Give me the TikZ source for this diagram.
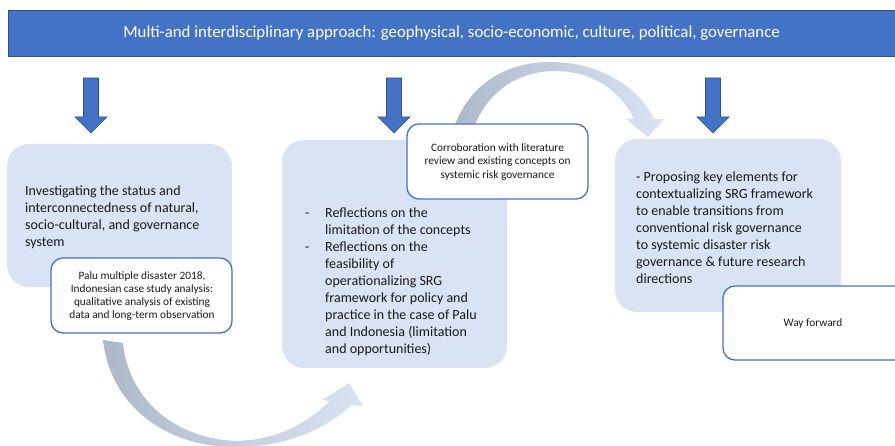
\documentclass[tikz,border=0pt]{standalone}
\usepackage{fontspec}
\setmainfont{Carlito}
\usetikzlibrary{shadings}
\definecolor{barblue}{HTML}{4472C4}
\definecolor{bardark}{HTML}{2F528F}
\definecolor{panel}{HTML}{DAE3F3}
\definecolor{flowgray}{HTML}{ADB9CA}
\begin{document}
\begin{tikzpicture}[x=1pt,y=-1pt,
  panelbox/.style={fill=panel,draw=none,rounded corners=22pt},
  notebox/.style={fill=white,draw=barblue,line width=1.3pt,rounded corners=12pt},
  bigtext/.style={font=\fontsize{14}{17}\selectfont,inner sep=0pt,align=left,anchor=north west,text=black!90},
  smalltext/.style={font=\fontsize{11.3}{13.3}\selectfont,inner sep=0pt,align=center,text=black!90},
  downarrow/.style={fill=barblue,draw=bardark,line width=0.6pt},
  flowarrow/.style={left color=flowgray,right color=panel,draw=none}]
\useasboundingbox (0,0) rectangle (895,446);

% curved flow arrows (behind the panels)
\path[flowarrow] (103,340) .. controls (110,405) and (165,446) .. (232,447)
  .. controls (290,448) and (330,425) .. (352,405)
  -- (363,406) -- (349,383) -- (322,400) -- (330,401)
  .. controls (305,425) and (275,440) .. (236,441)
  .. controls (170,438) and (128,395) .. (123,343) -- cycle;
\path[flowarrow] (453,130) .. controls (468,85) and (505,62) .. (550,62)
  .. controls (600,62) and (640,88) .. (654,119)
  -- (664,119) -- (648,137) -- (626,119) -- (634,119)
  .. controls (620,90) and (592,71) .. (555,71)
  .. controls (515,71) and (485,95) .. (473,130) -- cycle;

% header bar
\node[fill=barblue,draw=bardark,line width=1.2pt,minimum width=892pt,minimum height=46pt,anchor=north west,inner sep=0pt,
  text=white,font=\fontsize{16.8}{19}\selectfont] (head) at (8,10)
  {\hspace*{-6pt}Multi-and interdisciplinary approach: geophysical, socio-economic, culture, political, governance};

% large panels
\path[panelbox] (7,144) rectangle (232,287);
\path[panelbox] (282,140) rectangle (507,368);
\path[panelbox] (615,139) rectangle (841,312);

\node[bigtext] (t1) at (25,186) {Investigating the status and\\interconnectedness of natural,\\socio-cultural, and governance\\system};

\node[bigtext] (t2) at (305,205) {%
  \begin{tabular}{@{}p{20pt}@{}l@{}}
  - & Reflections on the\\
    & limitation of the concepts\\
  - & Reflections on the\\
    & feasibility of\\
    & operationalizing SRG\\
    & framework for policy and\\
    & practice in the case of Palu\\
    & and Indonesia (limitation\\
    & and opportunities)
  \end{tabular}};

\node[bigtext] (t3) at (636,172) {- Proposing key elements for\\contextualizing SRG framework\\to enable transitions from\\conventional risk governance\\to systemic disaster risk\\governance \& future research\\directions};

% white note boxes
\path[notebox] (51,258) rectangle (232,333);
\node[smalltext] (n1) at (142,296) {Palu multiple disaster 2018,\\Indonesian case study analysis:\\qualitative analysis of existing\\data and long-term observation};
\path[notebox] (407,124) rectangle (588,199);
\node[smalltext] (n2) at (497.5,162) {Corroboration with literature\\review and existing concepts on\\systemic risk governance};
\path[notebox] (723,286) rectangle (910,360);
\node[smalltext] (n3) at (813,323) {Way forward};

% block arrows below the header
\foreach \cx/\nm in {91/a1,394/a2,713/a3}{
  \path[downarrow] (\cx-7.5,78) -- (\cx+7.5,78) -- (\cx+7.5,117) -- (\cx+16,117)
    -- (\cx,133) -- (\cx-16,117) -- (\cx-7.5,117) -- cycle;
}
\end{tikzpicture}
\end{document}
